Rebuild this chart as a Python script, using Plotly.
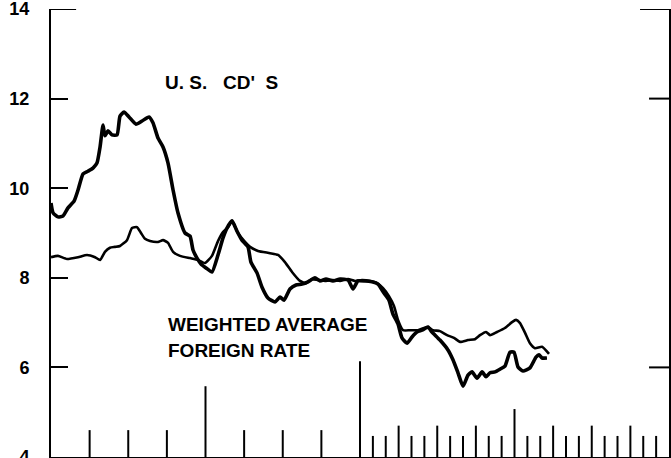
import plotly.graph_objects as go

# ---- data (months from start of chart, percent) ----
cd_months = [0, 0.16, 0.54, 0.93, 1.32, 1.79, 2.10, 2.49, 2.87, 3.26, 3.57, 3.81, 4.04, 4.19, 4.43, 4.74,
             5.13, 5.36, 5.67, 6.06, 6.60, 7.07, 7.61, 7.92, 8.31, 8.70, 9.09, 9.48, 9.86, 10.41, 10.80,
             11.03, 11.34, 11.65, 12.04, 12.50, 12.97, 13.36, 13.67, 14.06, 14.45, 14.83, 15.30, 15.53,
             16.00, 16.39, 16.85, 17.40, 17.79, 18.10, 18.56, 19.03, 19.50, 19.96, 20.50, 20.89, 21.36,
             21.90, 22.45, 23.07, 23.46, 23.84, 24.39, 24.93, 25.40, 25.86, 26.25, 26.56, 26.95, 27.26,
             27.65, 28.04, 28.43, 28.82, 29.28, 29.59, 30.21, 30.83, 31.22, 31.61, 32.00, 32.39, 32.70,
             33.09, 33.48, 33.79, 34.10, 34.49, 34.87, 35.26, 35.65, 35.96, 36.27, 36.66, 37.20, 37.67,
             37.90, 38.14, 38.52]
cd_rates = [9.67, 9.45, 9.36, 9.38, 9.56, 9.71, 9.96, 10.32, 10.38, 10.45, 10.56, 10.92, 11.41, 11.17,
            11.28, 11.19, 11.19, 11.61, 11.70, 11.59, 11.43, 11.50, 11.59, 11.46, 11.12, 10.92, 10.56,
            9.96, 9.45, 9.00, 8.93, 8.62, 8.44, 8.31, 8.22, 8.13, 8.51, 8.89, 9.11, 9.27, 9.04, 8.84,
            8.69, 8.35, 8.11, 7.79, 7.55, 7.46, 7.57, 7.50, 7.75, 7.84, 7.86, 7.91, 8.00, 7.93, 7.97,
            7.93, 7.97, 7.95, 7.75, 7.93, 7.93, 7.91, 7.86, 7.66, 7.50, 7.19, 6.97, 6.66, 6.54, 6.68,
            6.79, 6.83, 6.90, 6.79, 6.61, 6.39, 6.17, 5.88, 5.58, 5.83, 5.90, 5.76, 5.90, 5.79, 5.88,
            5.90, 5.96, 6.03, 6.34, 6.34, 6.01, 5.92, 5.99, 6.23, 6.28, 6.21, 6.21]

foreign_months = [0, 0.54, 1.24, 2.10, 2.80, 3.42, 3.81, 4.19, 4.58, 4.97, 5.36, 5.90, 6.29, 6.68, 6.99,
                  7.30, 7.69, 8.31, 8.70, 9.09, 9.48, 10.02, 10.80, 11.42, 11.96, 12.50, 12.97, 13.36,
                  13.75, 14.06, 14.52, 15.07, 15.46, 16.08, 17.01, 17.63, 18.17, 18.72, 19.34, 19.81,
                  20.27, 20.74, 21.36, 21.90, 22.45, 23.07, 23.61, 24.16, 24.78, 25.32, 25.79, 26.25,
                  26.64, 26.95, 27.34, 27.88, 28.50, 28.97, 29.28, 29.67, 30.21, 30.76, 31.30, 31.77,
                  32.39, 32.93, 33.32, 33.79, 34.10, 34.64, 35.26, 35.81, 36.12, 36.43, 36.82, 37.20,
                  37.59, 38.14, 38.68]
foreign_rates = [8.46, 8.49, 8.42, 8.46, 8.51, 8.46, 8.40, 8.58, 8.67, 8.69, 8.71, 8.84, 9.11, 9.13,
                 9.00, 8.87, 8.82, 8.80, 8.84, 8.78, 8.58, 8.49, 8.44, 8.40, 8.33, 8.49, 8.82, 9.02,
                 9.13, 9.27, 9.00, 8.80, 8.69, 8.60, 8.55, 8.51, 8.35, 8.13, 7.93, 7.88, 7.97, 7.95,
                 7.93, 7.95, 7.93, 7.97, 7.93, 7.95, 7.93, 7.88, 7.77, 7.59, 7.37, 7.06, 6.83, 6.83,
                 6.83, 6.88, 6.90, 6.83, 6.81, 6.72, 6.66, 6.57, 6.61, 6.63, 6.72, 6.79, 6.72, 6.79,
                 6.88, 7.01, 7.06, 6.99, 6.77, 6.54, 6.43, 6.46, 6.30]

y_ticks = [4, 6, 8, 10, 12, 14]
y_labels = ["4", "6", "8", "10", "12", "14"]
x_tick_months = list(range(3, 24, 3)) + list(range(24, 48))

FONT = "Liberation Sans, Arial, sans-serif"


def tick_height(m):
    if m == 12:
        return 1.58
    if m == 24:
        return 2.14
    if m == 36:
        return 1.07
    if m < 24:
        return 0.6
    return 0.7 if m % 3 == 0 else 0.47


tx, ty = [], []
for m in x_tick_months:
    tx += [m, m, None]
    ty += [4, 4 + tick_height(m), None]

fig = go.Figure()
fig.add_trace(go.Scatter(x=tx, y=ty, mode="lines", line=dict(color="black", width=2),
                         hoverinfo="skip", showlegend=False))
fig.add_trace(go.Scatter(x=foreign_months, y=foreign_rates, mode="lines",
                         line=dict(color="black", width=2.6, shape="spline", smoothing=0.5),
                         name="Weighted average foreign rate", showlegend=False))
fig.add_trace(go.Scatter(x=cd_months, y=cd_rates, mode="lines",
                         line=dict(color="black", width=3.6, shape="spline", smoothing=0.5),
                         name="U.S. CD's", showlegend=False))

# caps and right-side ticks
shape_line = dict(color="black", width=2)
fig.add_shape(type="line", xref="x", yref="y", x0=0, x1=1.95, y0=14, y1=14, line=shape_line)
fig.add_shape(type="line", xref="x", yref="y", x0=45.75, x1=48, y0=14, y1=14, line=shape_line)
for yv in (12, 6):
    fig.add_shape(type="line", xref="x", yref="y", x0=46.45, x1=48, y0=yv, y1=yv, line=shape_line)

text_font = dict(family=FONT, size=19, color="black", weight="bold")
fig.add_annotation(x=8.70, y=12.35, xref="x", yref="y", xanchor="left", yanchor="middle",
                   text="U.\u00a0S.\u00a0\u00a0\u00a0CD'\u00a0\u00a0S", showarrow=False, font=text_font)
fig.add_annotation(x=8.93, y=6.95, xref="x", yref="y", xanchor="left", yanchor="middle",
                   text="WEIGHTED AVERAGE", showarrow=False, font=text_font)
fig.add_annotation(x=8.93, y=6.37, xref="x", yref="y", xanchor="left", yanchor="middle",
                   text="FOREIGN RATE", showarrow=False, font=text_font)

fig.update_xaxes(range=[0, 48], showline=True, linecolor="black", linewidth=2, showgrid=False,
                 zeroline=False, showticklabels=False, ticks="", automargin=False)
fig.update_yaxes(range=[4, 14], tickvals=y_ticks, ticktext=y_labels, ticks="inside", ticklen=17,
                 tickwidth=2, tickcolor="black", showline=True, linecolor="black", linewidth=2,
                 mirror=True, showgrid=False, zeroline=False, ticklabelstandoff=16,
                 automargin=False, ticklabeloverflow="allow",
                 tickfont=dict(family=FONT, size=18, color="black", weight="bold"))

fig.update_layout(width=671, height=458, margin=dict(l=51, r=2, t=9, b=1),
                  plot_bgcolor="white", paper_bgcolor="white", showlegend=False)

fig.write_html("out.html", config={"displayModeBar": False},
               post_script="document.body.style.margin='0';document.body.style.overflow='hidden';")
